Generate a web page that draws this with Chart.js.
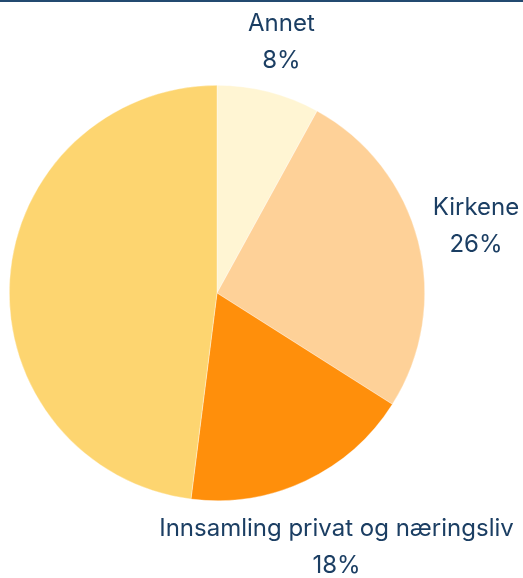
<!DOCTYPE html>
<html>
<head>
<meta charset="utf-8">
<script src="https://cdn.jsdelivr.net/npm/chart.js@4"></script>
<style>
  html, body { margin: 0; padding: 0; background: #fff; }
  body { width: 523px; height: 578px; overflow: hidden; position: relative; }
  .topline { position: absolute; left: 0; top: 0; width: 523px; height: 2px; background: #234a70; }
  #wrap { position: absolute; left: 0; top: 0; width: 523px; height: 578px; }
</style>
</head>
<body>
<div id="wrap"><canvas id="pie"></canvas></div>
<div class="topline"></div>
<script>
const categories = ['Annet', 'Kirkene', 'Innsamling privat og næringsliv', ''];
const shares = [8, 26, 18, 48];
const sliceColors = ['#FFF5D3', '#FED198', '#FF8F0B', '#FDD570'];

// outside labels: name + percent, pushed out along the slice middle
const outsideLabels = {
  id: 'outsideLabels',
  afterDatasetsDraw(chart, args, opts) {
    const ctx = chart.ctx;
    const meta = chart.getDatasetMeta(0);
    ctx.save();
    ctx.font = opts.font;
    ctx.fillStyle = opts.color;
    ctx.textAlign = 'center';
    ctx.textBaseline = 'middle';
    meta.data.forEach((arc, i) => {
      const name = chart.data.labels[i];
      if (!name) return;
      const p = arc.getProps(['x', 'y', 'startAngle', 'endAngle', 'outerRadius'], true);
      const mid = (p.startAngle + p.endAngle) / 2;
      const vx = Math.cos(mid), vy = Math.sin(mid);
      const lines = [name, chart.data.datasets[0].data[i] + '%'];
      const w = Math.max(...lines.map(l => ctx.measureText(l).width));
      const h = lines.length * opts.lineHeight;
      const ext = Math.min(
        Math.abs(vx) > 1e-6 ? w / 2 / Math.abs(vx) : Infinity,
        Math.abs(vy) > 1e-6 ? h / 2 / Math.abs(vy) : Infinity
      );
      const dist = p.outerRadius + opts.offsets[i] + ext;
      const cx = p.x + vx * dist;
      const cy = p.y + vy * dist;
      lines.forEach((l, k) => {
        ctx.fillText(l, cx, cy + (k - (lines.length - 1) / 2) * opts.lineHeight);
      });
    });
    ctx.restore();
  }
};

new Chart(document.getElementById('pie'), {
  type: 'pie',
  data: {
    labels: categories,
    datasets: [{
      data: shares,
      backgroundColor: sliceColors,
      borderColor: 'rgba(255,255,255,0.6)',
      borderWidth: 0.6
    }]
  },
  options: {
    responsive: true,
    maintainAspectRatio: false,
    animation: false,
    layout: { padding: { left: 9, right: 98, top: 85, bottom: 77 } },
    plugins: {
      legend: { display: false },
      tooltip: { enabled: false },
      outsideLabels: {
        font: '24px Inter, "DejaVu Sans", sans-serif',
        color: '#1b3e63',
        lineHeight: 37,
        offsets: [13, 15, 32, 0]
      }
    }
  },
  plugins: [outsideLabels]
});
</script>
</body>
</html>
